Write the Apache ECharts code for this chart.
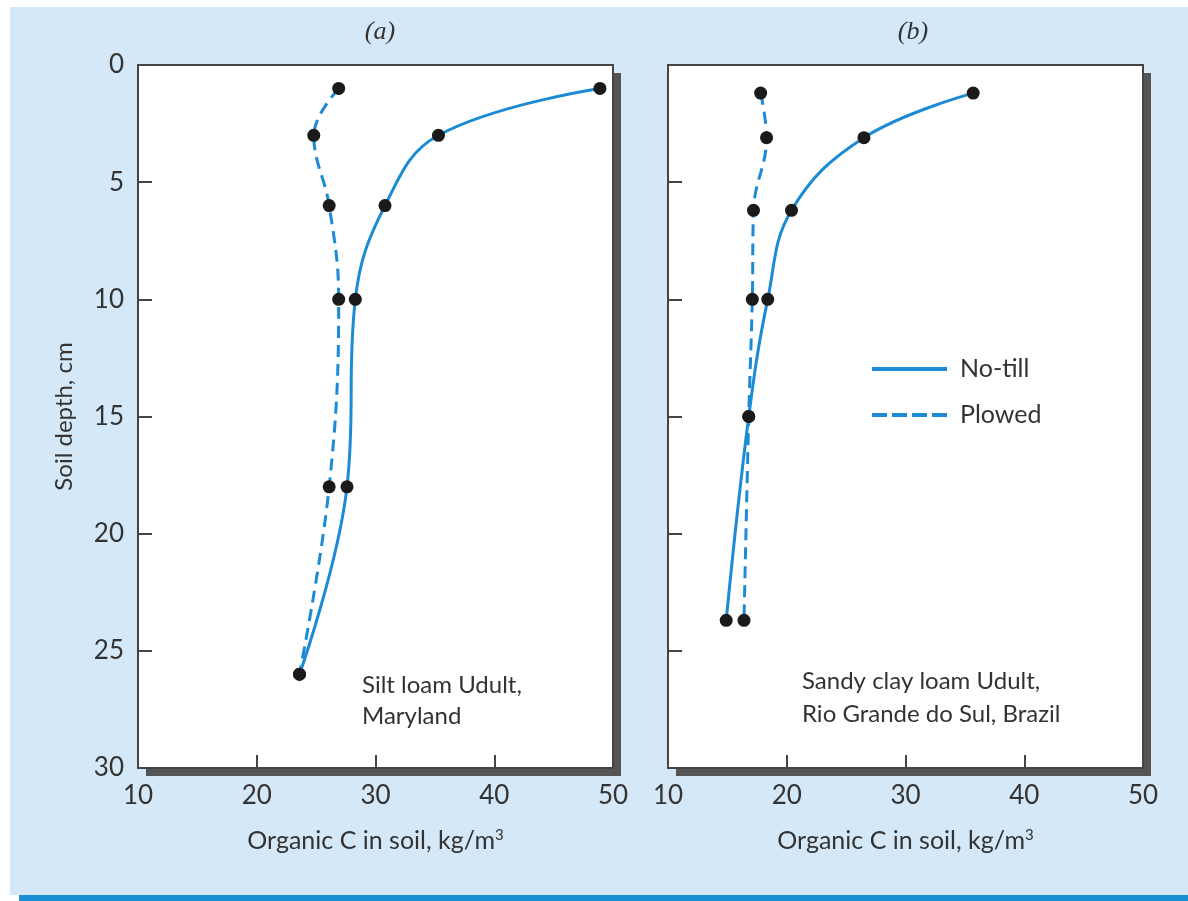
<!DOCTYPE html>
<html lang="en">
<head>
  <meta charset="UTF-8">
  <title>Organic C in soil</title>
  <style>
    * { margin: 0; padding: 0; }
    body { background: #fff; width: 1188px; height: 901px; overflow: hidden; position: relative; }
    .bg { position: absolute; left: 10px; top: 7px; width: 1178px; height: 888px; background: #d5e8f7; }
    .bar { position: absolute; left: 19px; top: 895px; width: 1169px; height: 6px; background: #1a8fd6; }
    #main { position: absolute; left: 0; top: 0; width: 1188px; height: 901px; }
  </style>
</head>
<body>
  <div class="bg"></div>
  <div class="bar"></div>
  <div id="main"></div>
  <script src="https://cdn.jsdelivr.net/npm/echarts@6/dist/echarts.min.js"></script>
  <script>
    // (a) Silt loam Udult, Maryland
    const depthA = [1, 3, 6, 10, 18, 26]
    const noTillA = [48.9, 35.3, 30.8, 28.3, 27.6, 23.6]
    const plowedA = [26.9, 24.8, 26.1, 26.9, 26.1, 23.6]
    // (b) Sandy clay loam Udult, Brazil
    const depthB = [1.2, 3.1, 6.2, 10, 15, 23.7]
    const noTillB = [35.7, 26.5, 20.4, 18.4, 16.8, 14.9]
    const plowedB = [17.8, 18.3, 17.2, 17.1, 16.8, 16.4]
    const xTicks = [10, 20, 30, 40, 50]
    const yTicks = [0, 5, 10, 15, 20, 25, 30]

    const blue = '#1b8bd5'
    const ink = '#333'
    const frame = '#444'
    const font = 'Lato'

    function pairs(xs, ys) {
      return xs.map((x, i) => [x, ys[i]])
    }

    // white plot box with a hard grey drop shadow; the frame itself comes from the axes
    function grid(left) {
      return {
        left: left, top: 65, width: 475, height: 703,
        show: true, backgroundColor: '#fff', borderWidth: 0,
        shadowColor: '#555', shadowBlur: 0, shadowOffsetX: 8, shadowOffsetY: 8
      }
    }

    function xAxis(idx) {
      return {
        type: 'value', gridIndex: idx, position: 'bottom',
        min: xTicks[0], max: xTicks[xTicks.length - 1], interval: 10,
        name: 'Organic C in soil, kg/m{sup|3}',
        nameLocation: 'middle', nameGap: 60,
        nameTextStyle: {
          fontFamily: font, fontSize: 25, color: ink,
          rich: { sup: { fontFamily: font, fontSize: 15, color: ink, verticalAlign: 'top', padding: [0, 0, 11, 0] } }
        },
        axisLine: { show: true, onZero: false, lineStyle: { color: frame, width: 2 } },
        axisTick: { show: true, inside: true, length: 13, lineStyle: { color: frame, width: 2 } },
        axisLabel: { fontFamily: font, fontSize: 26, color: ink, margin: 15 },
        splitLine: { show: false }
      }
    }

    function yAxis(idx, labels) {
      return {
        type: 'value', gridIndex: idx, inverse: true, position: 'left',
        min: yTicks[0], max: yTicks[yTicks.length - 1], interval: 5,
        name: labels ? 'Soil depth, cm' : '',
        nameLocation: 'middle', nameGap: 62, nameRotate: 90,
        nameTextStyle: { fontFamily: font, fontSize: 24, color: ink },
        axisLine: { show: true, onZero: false, lineStyle: { color: frame, width: 2 } },
        axisTick: { show: true, inside: true, length: 14, lineStyle: { color: frame, width: 2 } },
        axisLabel: { show: labels, fontFamily: font, fontSize: 26, color: ink, margin: 14 },
        splitLine: { show: false }
      }
    }

    // top and right edges of the box
    function edge(idx, pos, isX) {
      return {
        type: 'value', gridIndex: idx, position: pos,
        min: isX ? xTicks[0] : yTicks[0],
        max: isX ? xTicks[xTicks.length - 1] : yTicks[yTicks.length - 1],
        axisLine: { show: true, onZero: false, lineStyle: { color: frame, width: 2 } },
        axisTick: { show: false }, axisLabel: { show: false }, splitLine: { show: false }
      }
    }

    function line(name, idx, data, dashed) {
      return {
        name: name, type: 'line', xAxisIndex: idx, yAxisIndex: idx,
        data: data, smooth: 0.4,
        symbol: 'circle', symbolSize: 13,
        itemStyle: { color: '#1a1a1a' },
        lineStyle: { color: blue, width: 3, type: dashed ? [12, 7] : 'solid' },
        z: dashed ? 2 : 3,
        animation: false
      }
    }

    const chart = echarts.init(document.getElementById('main'))
    chart.setOption({
      animation: false,
      title: [
        { text: '(a)', left: 375, top: 14, textAlign: 'center',
          textStyle: { fontFamily: 'Liberation Serif', fontStyle: 'italic', fontWeight: 'normal', fontSize: 26, color: ink } },
        { text: '(b)', left: 908, top: 14, textAlign: 'center',
          textStyle: { fontFamily: 'Liberation Serif', fontStyle: 'italic', fontWeight: 'normal', fontSize: 26, color: ink } }
      ],
      grid: [grid(138), grid(668)],
      xAxis: [xAxis(0), xAxis(1), edge(0, 'top', true), edge(1, 'top', true)],
      yAxis: [yAxis(0, true), yAxis(1, false), edge(0, 'right', false), edge(1, 'right', false)],
      legend: {
        orient: 'vertical', left: 867, top: 351,
        itemWidth: 75, itemHeight: 4, itemGap: 20,
        textStyle: { fontFamily: font, fontSize: 25, color: ink, lineHeight: 26, padding: [0, 0, 0, 8] },
        data: [
          { name: 'No-till', icon: 'rect', itemStyle: { color: blue } },
          { name: 'Plowed', icon: 'path://M0,0h15v4h-15z M20,0h15v4h-15z M40,0h15v4h-15z M60,0h15v4h-15z', itemStyle: { color: blue } }
        ]
      },
      graphic: [
        { type: 'text', left: 362, top: 670,
          style: { text: 'Silt loam Udult,\nMaryland', font: '24px Lato', fill: ink, lineHeight: 31 } },
        { type: 'text', left: 802, top: 665,
          style: { text: 'Sandy clay loam Udult,\nRio Grande do Sul, Brazil', font: '24px Lato', fill: ink, lineHeight: 33 } }
      ],
      series: [
        line('Plowed', 0, pairs(plowedA, depthA), true),
        line('No-till', 0, pairs(noTillA, depthA), false),
        line('Plowed', 1, pairs(plowedB, depthB), true),
        line('No-till', 1, pairs(noTillB, depthB), false)
      ]
    })
  </script>
</body>
</html>
